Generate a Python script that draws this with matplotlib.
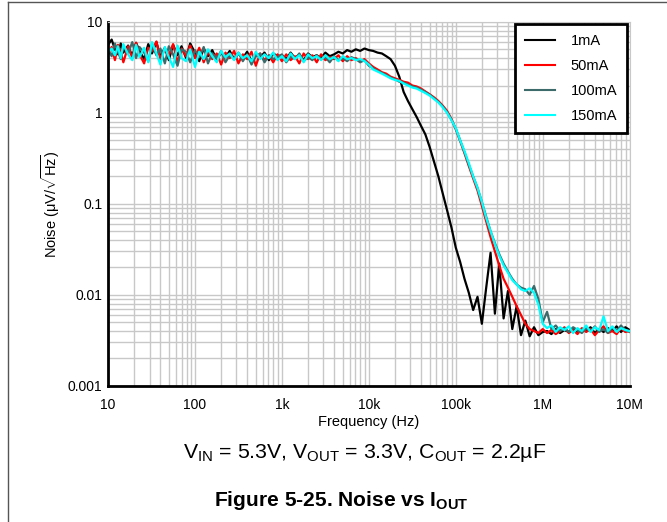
import matplotlib
matplotlib.use('Agg')
import matplotlib.pyplot as plt
from matplotlib.lines import Line2D
from matplotlib.ticker import FixedLocator, LogLocator, NullFormatter

plt.rcParams['font.family'] = ['Liberation Sans', 'DejaVu Sans']
plt.rcParams['mathtext.fontset'] = 'custom'
plt.rcParams['mathtext.rm'] = 'Liberation Sans'
plt.rcParams['mathtext.it'] = 'Liberation Sans'
plt.rcParams['mathtext.bf'] = 'Liberation Sans:bold'

# shared frequency sweep (Hz)
freq = [
    10, 11, 12, 13, 14, 15, 17, 19, 21, 23, 26, 29, 32, 36, 40, 45, 50, 56, 63, 70, 79, 88,
    100, 112, 126, 141, 158, 178, 200, 224, 251, 282, 316, 355, 398, 447, 501, 562, 631, 708, 794, 891,
    1000, 1122, 1259, 1413, 1585, 1778, 1995, 2239, 2512, 2818, 3162, 3548, 3981, 4467, 5012, 5623,
    6310, 7079, 7943, 8913,
    10000, 11220, 12590, 14130, 15850, 17780, 19950, 22390, 25120, 28180, 31620, 35480, 39810, 44670,
    50120, 56230, 63100, 70790, 79430, 89130,
    100000, 112200, 125900, 141300, 158500, 177800, 199500, 223900, 251200, 281800, 316200, 354800,
    398100, 446700, 501200, 562300, 631000, 707900, 794300, 891300,
    1000000, 1122000, 1259000, 1413000, 1585000, 1778000, 1995000, 2239000, 2512000, 2818000, 3162000,
    3548000, 3981000, 4467000, 5012000, 5623000, 6310000, 7079000, 7943000, 8913000, 10000000,
]

# noise density (uV/sqrt(Hz))
noise_1ma = [
    5.6, 6.4, 5.0, 4.4, 5.8, 4.6, 5.5, 4.2, 5.9, 4.8, 3.9, 5.7, 4.5, 6.0, 4.1, 5.2, 3.8, 5.6, 4.3, 5.4, 4.0, 5.8,
    4.6, 3.7, 5.1, 4.2, 4.9, 3.8, 4.6, 4.1, 4.8, 3.9, 4.5, 4.0, 4.7, 3.7, 4.4, 4.1, 4.6, 3.8, 4.5, 4.2,
    4.3, 3.9, 4.6, 4.0, 4.4, 3.8, 4.5, 4.1, 4.3, 4.0, 4.6, 4.2, 4.4, 4.7, 4.5, 4.9, 4.7, 5.0, 4.8, 5.1,
    4.9, 4.8, 4.6, 4.5, 4.2, 3.9, 3.3, 2.5, 1.7, 1.35, 1.1, 0.9, 0.72, 0.58, 0.42, 0.29, 0.2, 0.13, 0.085, 0.055,
    0.033, 0.023, 0.015, 0.0105, 0.0068, 0.0095, 0.0048, 0.012, 0.029, 0.0062, 0.022, 0.0055, 0.011, 0.0042,
    0.0075, 0.0036, 0.0052, 0.0035, 0.0044, 0.0036,
    0.0039, 0.0040, 0.0037, 0.0042, 0.0038, 0.0041, 0.0039, 0.0043, 0.0038, 0.0041, 0.0040, 0.0044, 0.0038,
    0.0042, 0.0039, 0.0043, 0.0040, 0.0045, 0.0039, 0.0044, 0.0041,
]
noise_50ma = [
    4.4, 5.3, 3.8, 5.6, 4.6, 3.6, 5.4, 4.0, 5.9, 4.4, 3.5, 5.2, 4.8, 6.1, 3.9, 5.0, 4.3, 5.7, 3.6, 5.1, 4.2, 5.5,
    4.0, 5.2, 3.6, 4.7, 3.9, 4.5, 3.4, 4.6, 4.0, 4.8, 3.5, 4.4, 3.9, 4.7, 3.3, 4.5, 3.8, 4.3, 3.6, 4.4,
    3.7, 4.4, 3.8, 4.2, 3.5, 4.5, 3.9, 4.3, 3.6, 4.4, 3.8, 4.1, 3.9, 4.3, 3.7, 4.2, 3.8, 4.0, 3.7, 3.9,
    3.5, 3.2, 3.0, 2.8, 2.7, 2.5, 2.4, 2.3, 2.2, 2.15, 2.0, 1.95, 1.85, 1.72, 1.6, 1.48, 1.35, 1.2, 1.05, 0.86,
    0.66, 0.49, 0.36, 0.26, 0.19, 0.14, 0.095, 0.064, 0.043, 0.030, 0.021, 0.015, 0.012, 0.0095, 0.0075,
    0.006, 0.0048, 0.0042, 0.0040, 0.0038,
    0.0042, 0.0038, 0.0041, 0.0037, 0.0040, 0.0044, 0.0038, 0.0041, 0.0037, 0.0043, 0.0039, 0.0042, 0.0036,
    0.0041, 0.0045, 0.0038, 0.0040, 0.0037, 0.0043, 0.0039, 0.0040,
]
noise_100ma = [
    5.0, 4.2, 5.8, 4.7, 3.9, 5.5, 4.5, 6.0, 4.0, 5.3, 4.6, 3.7, 5.6, 4.3, 5.1, 3.5, 5.4, 4.4, 3.3, 5.0, 4.7, 3.6,
    4.9, 4.1, 5.3, 3.5, 4.5, 4.0, 4.8, 3.6, 4.3, 3.9, 4.6, 3.7, 4.4, 3.4, 4.2, 4.5, 3.6, 4.3, 3.9, 4.1,
    4.4, 3.6, 4.2, 3.9, 4.5, 3.7, 4.1, 3.8, 4.3, 3.9, 4.1, 3.6, 4.2, 3.8, 4.0, 3.7, 4.1, 3.9, 3.6, 3.8,
    3.3, 3.1, 2.9, 2.75, 2.6, 2.45, 2.35, 2.2, 2.15, 2.05, 1.95, 1.9, 1.8, 1.7, 1.58, 1.45, 1.32, 1.18, 1.02, 0.84,
    0.67, 0.5, 0.37, 0.27, 0.2, 0.15, 0.105, 0.072, 0.05, 0.037, 0.028, 0.022, 0.018, 0.015, 0.013,
    0.012, 0.0115, 0.010, 0.0125, 0.009,
    0.0050, 0.0065, 0.0042, 0.0046, 0.0040, 0.0043, 0.0039, 0.0044, 0.0041, 0.0038, 0.0043, 0.0040, 0.0045,
    0.0039, 0.0042, 0.0038, 0.0044, 0.0040, 0.0046, 0.0041, 0.0039,
]
noise_150ma = [
    4.6, 5.1, 4.3, 5.4, 4.0, 5.7, 4.4, 3.8, 5.6, 4.1, 5.2, 3.6, 6.0, 4.5, 3.4, 5.3, 4.1, 3.2, 5.5, 4.0, 3.7, 5.0,
    3.2, 4.7, 3.9, 5.0, 4.2, 3.6, 4.8, 4.1, 4.5, 3.8, 4.6, 4.0, 4.3, 3.7, 4.7, 3.9, 4.4, 4.0, 4.6, 3.8,
    4.2, 3.7, 4.5, 3.9, 4.3, 3.6, 4.4, 4.0, 4.2, 3.8, 4.3, 3.9, 4.1, 3.7, 4.2, 3.9, 4.0, 3.8, 3.9, 3.7,
    3.4, 3.0, 2.85, 2.7, 2.55, 2.4, 2.3, 2.25, 2.1, 2.0, 1.9, 1.85, 1.75, 1.65, 1.55, 1.42, 1.3, 1.15, 1.0, 0.83,
    0.68, 0.5, 0.38, 0.28, 0.2, 0.15, 0.105, 0.07, 0.05, 0.036, 0.027, 0.021, 0.0175, 0.0145, 0.013,
    0.0115, 0.011, 0.0118, 0.0105, 0.0078,
    0.0048, 0.0043, 0.0046, 0.0039, 0.0044, 0.0041, 0.0045, 0.0038, 0.0043, 0.0040, 0.0046, 0.0039, 0.0044,
    0.0041, 0.0058, 0.0040, 0.0045, 0.0039, 0.0043, 0.0041, 0.0040,
]

labels = ['1mA', '50mA', '100mA', '150mA']
colors = ['black', '#ff0000', '#3d6b6b', '#00ffff']
series = [noise_1ma, noise_50ma, noise_100ma, noise_150ma]

x_ticks = [10, 100, 1e3, 1e4, 1e5, 1e6, 1e7]
x_ticklabels = ['10', '100', '1k', '10k', '100k', '1M', '10M']
y_ticks = [0.001, 0.01, 0.1, 1, 10]
y_ticklabels = ['0.001', '0.01', '0.1', '1', '10']

fig = plt.figure(figsize=(6.67, 5.22), dpi=100)
ax = fig.add_axes([0.162, 0.261, 0.782, 0.697])

for vals, lab, col in zip(series, labels, colors):
    ax.plot(freq, vals, color=col, lw=1.6, label=lab)

ax.set_xscale('log')
ax.set_yscale('log')
ax.set_xlim(10, 1e7)
ax.set_ylim(0.001, 10)

ax.xaxis.set_major_locator(FixedLocator(x_ticks))
ax.set_xticklabels(x_ticklabels)
ax.yaxis.set_major_locator(FixedLocator(y_ticks))
ax.set_yticklabels(y_ticklabels)
ax.xaxis.set_minor_locator(LogLocator(base=10, subs=range(2, 10), numticks=20))
ax.yaxis.set_minor_locator(LogLocator(base=10, subs=range(2, 10), numticks=20))
ax.xaxis.set_minor_formatter(NullFormatter())
ax.yaxis.set_minor_formatter(NullFormatter())
ax.tick_params(which='both', length=0, labelsize=10)
ax.tick_params(axis='x', pad=9)
ax.tick_params(axis='y', pad=4)

ax.grid(True, which='both', color='#c8c8c8', lw=1.0)
ax.set_axisbelow(True)
for side in ['left', 'bottom']:
    ax.spines[side].set_linewidth(2)
    ax.spines[side].set_color('black')
for side in ['top', 'right']:
    ax.spines[side].set_color('#c8c8c8')

ax.set_xlabel('Frequency (Hz)', fontsize=10.5, labelpad=2)
ax.set_ylabel(r'Noise ($\mu$V/$\sqrt{\mathrm{Hz}}$)', fontsize=10.5, labelpad=4)

leg = ax.legend(loc='upper right', fontsize=10.5, frameon=True, fancybox=False,
                edgecolor='black', framealpha=1, borderaxespad=0.15,
                handlelength=2.0, handletextpad=1.1, labelspacing=0.75,
                borderpad=0.7)
leg.get_frame().set_linewidth(2)
for line in leg.get_lines():
    line.set_linewidth(1.5)

fig.text(0.547, 0.132, r'V$_{\mathrm{IN}}$ = 5.3V, V$_{\mathrm{OUT}}$ = 3.3V, C$_{\mathrm{OUT}}$ = 2.2µF',
         ha='center', va='center', fontsize=15.3)
fig.text(0.512, 0.042, r'Figure 5-25. Noise vs I$_{\mathbf{OUT}}$',
         ha='center', va='center', fontsize=15.1, fontweight='bold')

# page border lines
fig.add_artist(Line2D([0.012, 0.012], [0, 0.996], color='#555555', lw=1))
fig.add_artist(Line2D([0.012, 1], [0.996, 0.996], color='#555555', lw=1))

fig.savefig('out.png', dpi=100)
